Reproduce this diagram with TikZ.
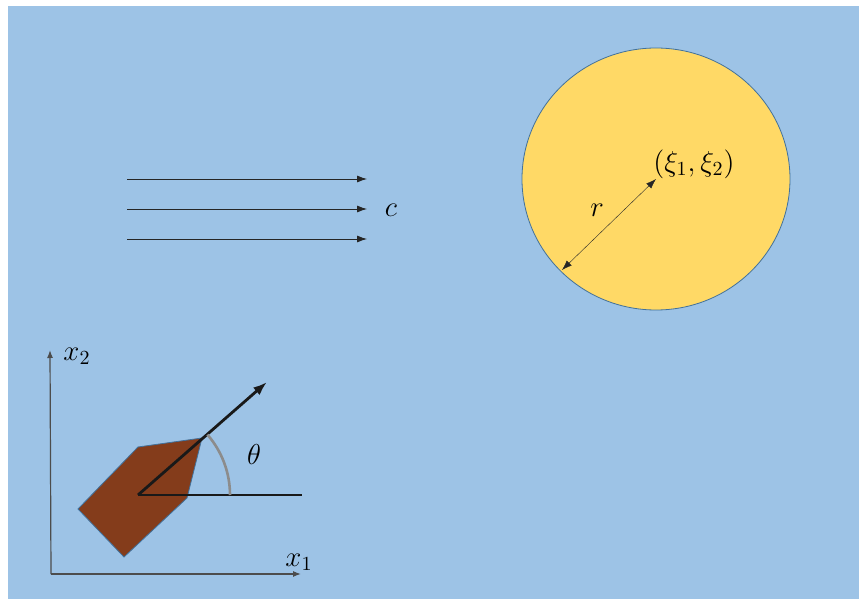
\documentclass[tikz,border=0pt]{standalone}
\usetikzlibrary{arrows.meta}
\definecolor{seablue}{HTML}{9DC3E6}
\definecolor{poolyellow}{HTML}{FFD966}
\definecolor{hullbrown}{HTML}{843C1B}
\definecolor{rimblue}{HTML}{41719C}
\begin{document}
\begin{tikzpicture}[x=0.5pt,y=-0.5pt,every node/.style={font=\Large},
  flow/.style={-{Latex[length=5pt,width=3.5pt]},black!85,thin},
  axis/.style={-{Latex[length=4pt,width=3pt]},black!70,semithick}]
\useasboundingbox (0,0) rectangle (859,599);
\fill[seablue] (8,6) rectangle (859,599);
% current c
\foreach \yy/\nm in {179/a,209/b,239/d}{
  \coordinate (src\nm) at (127,\yy);
  \coordinate (dst\nm) at (367,\yy);
  \draw[flow] (src\nm) -- (dst\nm);
}
\node (clabel) at (391,210) {$c$};
% circular region
\coordinate (ctr) at (656,179);
\coordinate (rim) at (562,270);
\draw[rimblue,fill=poolyellow] (ctr) ellipse[x radius=134,y radius=131];
\draw[{Latex[length=5pt,width=3.5pt]}-{Latex[length=5pt,width=3.5pt]},black!85,very thin] (rim) -- (ctr);
\node[anchor=west,inner sep=0pt] (center) at (653,164) {$(\xi_1,\xi_2)$};
\node (rlabel) at (597,210) {$r$};
% axes
\coordinate (orig) at (51,574);
\coordinate (xend) at (301,574);
\coordinate (yend) at (50,350);
\draw[axis] (orig) -- (xend);
\draw[axis] (orig) -- (yend);
\node (xone) at (299,562) {$x_1$};
\node (xtwo) at (77,356) {$x_2$};
% vessel
\draw[rimblue,fill=hullbrown,thin] (138,447) -- (202,438) -- (187,498) -- (124,557) -- (78,509) -- cycle;
\coordinate (pivot) at (138,495);
\coordinate (ahead) at (302,495);
\coordinate (tip) at (267,382);
\draw[line width=1.4pt,black!90] (pivot) -- (ahead);
\draw[-{Latex[length=7pt,width=5pt]},line width=1.4pt,black!90] (pivot) -- (tip);
\draw[black!45,line width=1.3pt] (pivot) ++(0:92) arc[start angle=0,end angle=-41,radius=92];
\node (theta) at (254,455) {$\theta$};
\end{tikzpicture}
\end{document}
